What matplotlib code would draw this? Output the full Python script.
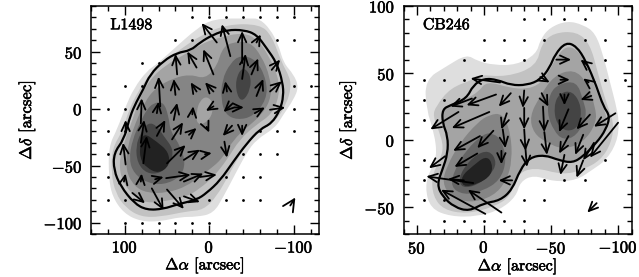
from matplotlib import pyplot as plt
from matplotlib.patches import PathPatch
from matplotlib.path import Path
from matplotlib.ticker import MultipleLocator
import matplotlib.patheffects as pe
import numpy as np

plt.rcParams['font.family'] = ['cmr10']
plt.rcParams['mathtext.fontset'] = 'cm'
plt.rcParams['axes.formatter.use_mathtext'] = True

SHADES = ['#dedede', '#c2c2c2', '#a4a4a4', '#858585', '#656565', '#444444', '#222222']

# L1498: filled intensity contours, lowest level first (ra, dec in arcsec)
l1498_level1 = [(-5, 79), (-48, 79), (-59, 79), (-72, 70), (-82, 56), (-88, 40), (-100, 30), (-106, 19),
                (-100, 8), (-88, -5), (-78, -17), (-56, -27), (-44, -39), (-29, -60), (-17, -77), (-5, -92),
                (15, -95), (34, -95), (58, -99), (81, -99), (101, -92), (115, -77), (119, -60), (119, -33),
                (109, -18), (99, 2), (89, 18), (74, 33), (62, 39), (38, 55), (15, 70)]
l1498_level2 = [(-21, 74), (-60, 74), (-74, 64), (-86, 40), (-95, 28), (-97, 19), (-92, 5), (-80, -10),
                (-60, -20), (-42, -33), (-24, -57), (-9, -77), (7, -89), (26, -90), (58, -95), (81, -95),
                (99, -87), (111, -74), (116, -57), (115, -35), (103, -20), (95, -1), (85, 14), (70, 31),
                (58, 39), (34, 52), (11, 64)]
l1498_level3 = [(11, 56), (-9, 62), (-41, 67), (-58, 60), (-70, 47), (-82, 28), (-83, 11), (-74, -5),
                (-56, -14), (-36, -27), (-21, -45), (-5, -60), (11, -70), (26, -77), (50, -81), (74, -83),
                (89, -77), (103, -64), (107, -48), (101, -30), (91, -10), (83, 8), (70, 26), (50, 39),
                (30, 47)]
l1498_level4 = [(-25, 58), (-48, 59), (-62, 46), (-72, 28), (-74, 11), (-64, -4), (-44, -17), (-29, -27),
                (-17, -42), (-5, -51), (11, -59), (26, -68), (50, -74), (74, -74), (89, -68), (99, -54),
                (97, -33), (87, -12), (77, 5), (64, 18), (42, 27), (22, 30), (5, 26), (-9, 37), (-15, 52)]
l1498_hole = [(3, 11), (-5, 5), (-3, -7), (7, -14), (15, -13), (15, -2), (11, 7)]
l1498_level5a = [(-37, 47), (-56, 43), (-68, 25), (-68, 8), (-52, -7), (-33, -10), (-19, -5), (-14, 8),
                 (-15, 25), (-25, 40)]
l1498_level5b = [(66, 5), (54, 6), (48, -7), (46, -20), (34, -33), (28, -48), (34, -60), (54, -67),
                 (74, -65), (89, -57), (95, -45), (91, -27), (81, -11), (74, -1)]
l1498_level6a = [(-39, 37), (-49, 30), (-49, 17), (-40, 6), (-33, 11), (-31, 25)]
l1498_level6b = [(72, -12), (62, -15), (54, -24), (42, -36), (46, -48), (58, -57), (74, -57), (85, -48),
                 (87, -33), (81, -21)]
l1498_level7 = [(78, -21), (62, -29), (48, -38), (47, -50), (60, -57), (74, -52), (82, -44), (82, -32)]
l1498_outline = [(11, 58), (-5, 65), (-21, 69), (-41, 69), (-56, 65), (-68, 53), (-80, 40), (-87, 23),
                 (-88, 11), (-84, -1), (-74, -13), (-60, -18), (-44, -31), (-29, -46), (-13, -63), (3, -74),
                 (15, -80), (38, -84), (54, -88), (74, -89), (89, -83), (105, -68), (113, -54), (113, -39),
                 (101, -27), (95, -10), (89, 2), (78, 17), (70, 30), (54, 42), (38, 49), (22, 51)]

# L1498: velocity vectors as (tail ra, tail dec, head ra, head dec)
l1498_arrows = [(-9, 58, 9, 75), (-25, 46, -15, 74), (-39, 40, -39, 68), (-56, 58, -61, 65), (-5, 30, 7, 52),
                (15, 36, 26, 50), (38, 30, 40, 48), (-39, 26, -43, 48), (-50, 30, -58, 44), (-74, 34, -84, 43),
                (58, 2, 60, 28), (40, 12, 42, 26), (15, 15, 22, 23), (-5, 15, 5, 23), (-21, 15, -19, 24),
                (-56, 11, -64, 26), (-72, 15, -86, 24), (81, -13, 80, 9), (62, -4, 60, 6), (42, -10, 38, 5),
                (20, -5, 19, 2), (-5, 2, 4, -2), (-27, 4, -17, -3), (-31, 1, -41, 1), (-54, -4, -66, 1),
                (-72, -1, -90, 1), (99, -21, 99, -10), (81, -30, 77, -10), (62, -24, 52, -10), (44, -27, 31, -12),
                (24, -23, 15, -17), (3, -16, 0, -21), (-27, -15, -16, -24), (-39, -15, -39, -24),
                (99, -49, 102, -30), (78, -48, 74, -24), (50, -48, 28, -32), (30, -45, 11, -36), (5, -40, -3, -39),
                (-18, -29, -21, -43), (101, -64, 99, -57), (81, -64, 80, -57), (64, -62, 54, -60),
                (51, -61, 22, -58), (30, -64, 7, -57), (11, -60, -9, -58), (68, -70, 54, -89), (91, -74, 76, -83),
                (50, -71, 30, -88), (30, -77, 11, -82)]
l1498_scale_arrow = (-96, -85, -102, -78)

# L1498: map positions, one (dec, ra list) row each
l1498_dots = [(80, [20, 0, -20, -40, -60, -80, -100]),
              (60, [40, 20, -80, -100]),
              (40, [80, 60]),
              (20, [100, 80, -100, -120]),
              (0, [120, 100, -100]),
              (-20, [120, 100, -60, -80, -100]),
              (-40, [120, -40, -60, -80]),
              (-60, [120, -20, -40, -60]),
              (-80, [120, 100, 0, -20, -40, -60]),
              (-100, [100, 80, 60, 40, 20, 0])]

# CB246: filled intensity contours
cb246_level1 = [(13, 64), (5, 59), (-7, 56), (-24, 56), (-39, 64), (-42, 75), (-49, 84), (-62, 89), (-74, 86),
                (-83, 80), (-89, 63), (-94, 43), (-98, 28), (-101, 13), (-99, -2), (-91, -15), (-81, -22), (-69, -30),
                (-52, -31), (-37, -26), (-27, -31), (-24, -42), (-12, -52), (5, -57), (25, -57), (40, -51), (44, -35),
                (40, -22), (35, -12), (37, 5), (43, 23), (44, 45), (28, 55)]
cb246_level2 = [(36, 25), (25, 39), (8, 45), (5, 49), (-17, 47), (-39, 55), (-43, 72), (-52, 80), (-69, 81),
                (-79, 72), (-85, 50), (-91, 28), (-97, 13), (-95, -2), (-87, -15), (-74, -22), (-59, -26),
                (-37, -20), (-24, -26), (-20, -42), (-7, -50), (13, -55), (30, -52), (38, -42), (39, -27), (33, -15),
                (30, -5), (34, 8), (38, 18)]
cb246_level3 = [(-2, 44), (-19, 39), (-32, 38), (-42, 42), (-49, 52), (-54, 62), (-61, 70), (-69, 68), (-76, 57),
                (-83, 39), (-89, 24), (-92, 16), (-90, 6), (-82, -3), (-73, -12), (-64, -17), (-56, -14), (-45, -11),
                (-34, -13), (-27, -22), (-21, -37), (-12, -44), (1, -47), (11, -52), (22, -49), (31, -42), (35, -33),
                (31, -22), (27, -10), (27, 3), (31, 12), (31, 22), (25, 26), (13, 31), (4, 36)]
cb246_level4a = [(-42, 33), (-52, 48), (-67, 53), (-77, 43), (-83, 25), (-84, 13), (-74, -2), (-59, -7), (-47, -2),
                 (-37, 5), (-34, 18)]
cb246_level4b = [(-14, 20), (-20, 5), (-21, -15), (-17, -30), (-7, -42), (11, -47), (25, -42), (31, -32), (28, -20),
                 (18, -2), (5, 13), (-4, 19)]
cb246_level5a = [(-56, 42), (-69, 44), (-74, 30), (-77, 18), (-69, 3), (-59, 0), (-52, 7), (-47, 20), (-49, 35)]
cb246_level5b = [(-13, 0), (-17, -15), (-12, -30), (1, -38), (15, -41), (25, -35), (22, -22), (13, -7), (0, 5), (-7, 5)]
cb246_level6a = [(-56, 35), (-66, 37), (-73, 25), (-71, 10), (-62, 6), (-54, 12), (-52, 25)]
cb246_level6b = [(-4, -7), (-10, -17), (-4, -27), (8, -35), (18, -35), (18, -25), (8, -12)]
cb246_level7 = [(-1, -12), (-6, -16), (-6, -26), (5, -33), (16, -35), (17, -27), (8, -19)]
cb246_outline = [(8, 41), (0, 46), (-10, 45), (-20, 41), (-32, 41), (-42, 45), (-49, 54), (-53, 64), (-61, 73),
                 (-69, 70), (-76, 59), (-84, 40), (-89, 25), (-94, 18), (-91, 8), (-84, -2), (-74, -12), (-66, -17),
                 (-56, -15), (-45, -11), (-34, -13), (-27, -22), (-21, -37), (-12, -45), (0, -47), (11, -53),
                 (22, -50), (31, -42), (35, -33), (31, -22), (27, -10), (27, 3), (31, 13), (31, 23), (25, 26), (13, 31)]

# CB246: velocity vectors
cb246_arrows = [(-42, 47, -49, 43), (-12, 43, 10, 46), (-54, 60, -65, 60), (-77, 56, -72, 60), (-57, 45, -64, 45),
                (-78, 43, -74, 46), (-9, 34, 13, 26), (9, 31, 25, 25), (-20, 35, -11, 25), (-30, 37, -29, 24),
                (-30, 24, -30, 8), (-30, 8, -31, -8), (-31, -7, -32, -20), (-43, 35, -48, 25), (-44, 25, -45, 6),
                (-45, 6, -47, -11), (-60, 34, -60, 26), (-63, 23, -56, 6), (-63, 3, -56, -10), (-60, -11, -57, -26),
                (-80, 33, -72, 30), (-79, 19, -69, 8), (-74, 4, -68, -11), (-74, -15, -69, -28), (-82, -2, -74, -15),
                (-98, 20, -82, 10), (-100, 13, -79, -13), (-17, 20, -13, 8), (-14, 8, -16, -6), (-13, -8, -13, -18),
                (19, 21, 40, 8), (-4, 21, 24, 9), (-7, 7, 5, -6), (3, 3, 23, -8), (5, -10, 22, -20), (29, -12, 41, -21),
                (-21, -30, -11, -30), (8, -32, 43, -27), (15, -30, 27, -29), (-1, -55, 32, -37), (-13, -54, 12, -37)]
cb246_scale_arrow = (-84, -47, -77, -54)

cb246_dots = [(90, [-30, -45, -60, -75]),
              (75, [0, -15, -30, -45, -75, -90]),
              (60, [15, 0, -15, -30, -90]),
              (45, [45, 30, 15, -90, -105]),
              (30, [45, 30]),
              (15, [45]),
              (-15, [45, -90]),
              (-30, [45, -45, -60, -75]),
              (-45, [45, 30, -30, -45]),
              (-60, [30, 15, 0, -15, -30])]


def smooth_path(poly):
    # closed quadratic curve, the picked points act as control points
    pts = np.array(poly, dtype=float)
    mids = (pts + np.roll(pts, -1, axis=0)) / 2
    verts = [mids[-1]]
    codes = [Path.MOVETO]
    for p, m in zip(pts, mids):
        verts += [p, m]
        codes += [Path.CURVE3, Path.CURVE3]
    return Path(verts, codes)


def add_arrow(ax, arrow, style):
    x0, y0, x1, y1 = arrow
    ax.annotate('', xy=(x1, y1), xytext=(x0, y0), zorder=5,
                arrowprops=dict(arrowstyle=style, color='k', lw=1.3, shrinkA=0, shrinkB=0))


def draw_panel(ax, fills, hole, outline, arrows, scale_arrow, scale_style, dots, name, xlim, ylim, xmajor, xminor):
    for level, poly in fills:
        ax.add_patch(PathPatch(smooth_path(poly), facecolor=SHADES[level], lw=0))
    if hole is not None:
        ax.add_patch(PathPatch(smooth_path(hole), facecolor=SHADES[2], lw=0))

    ax.add_patch(PathPatch(smooth_path(outline), facecolor='none', edgecolor='k', lw=1.6, zorder=3))

    for dec, ras in dots:
        ax.plot(ras, [dec] * len(ras), 'o', color='k', ms=2, mew=0, zorder=4)

    for arrow in arrows:
        add_arrow(ax, arrow, '->,head_length=0.65,head_width=0.3')
    add_arrow(ax, scale_arrow, scale_style)

    ax.set_xlim(xlim)
    ax.set_ylim(ylim)
    ax.xaxis.set_major_locator(MultipleLocator(xmajor))
    ax.xaxis.set_minor_locator(MultipleLocator(xminor))
    ax.yaxis.set_major_locator(MultipleLocator(50))
    ax.yaxis.set_minor_locator(MultipleLocator(10))
    ax.tick_params(which='both', direction='in', top=True, right=True, width=1.0, labelsize=12, pad=6)
    ax.tick_params(axis='x', which='both', pad=4)
    ax.tick_params(which='major', length=6.5)
    ax.tick_params(which='minor', length=3.8)
    for spine in ax.spines.values():
        spine.set_linewidth(1.1)
    ax.set_xlabel(r'$\Delta\alpha$ [arcsec]', fontsize=11.5, labelpad=0)
    ax.set_ylabel(r'$\Delta\delta$ [arcsec]', fontsize=12, labelpad=4)
    ax.text(0.085, 0.915, name, transform=ax.transAxes, fontsize=11.5, va='center', zorder=6)
    # the original type prints heavy
    for t in ax.get_xticklabels() + ax.get_yticklabels() + [ax.xaxis.label, ax.yaxis.label] + ax.texts:
        t.set_path_effects([pe.withStroke(linewidth=0.4, foreground='k')])


fig = plt.figure(figsize=(6.39, 2.77), dpi=100)
ax1 = fig.add_axes([91 / 639, 1 - 234 / 277, 228 / 639, 228 / 277])
ax2 = fig.add_axes([403.5 / 639, 1 - 234 / 277, 228 / 639, 228 / 277])

draw_panel(ax1,
           [(0, l1498_level1), (1, l1498_level2), (2, l1498_level3), (3, l1498_level4),
            (4, l1498_level5a), (4, l1498_level5b), (5, l1498_level6a), (5, l1498_level6b), (6, l1498_level7)],
           l1498_hole, l1498_outline, l1498_arrows, l1498_scale_arrow, '->,head_length=0.85,head_width=0.42',
           l1498_dots, 'L1498', (140, -130), (-110, 90), 100, 20)
draw_panel(ax2,
           [(0, cb246_level1), (1, cb246_level2), (2, cb246_level3), (3, cb246_level4a), (3, cb246_level4b),
            (4, cb246_level5a), (4, cb246_level5b), (5, cb246_level6a), (5, cb246_level6b), (6, cb246_level7)],
           None, cb246_outline, cb246_arrows, cb246_scale_arrow, '->,head_length=0.65,head_width=0.3',
           cb246_dots, 'CB246', (60, -110), (-70, 100), 50, 10)

fig.savefig('out.png', dpi=100)
